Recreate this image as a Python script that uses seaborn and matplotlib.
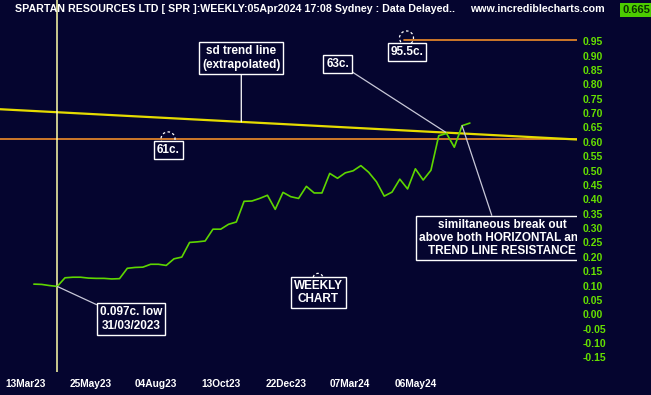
import pandas as pd
import matplotlib.pyplot as plt
import seaborn as sns
from matplotlib.patches import Ellipse

# weekly closes, SPR, 10 Mar 2023 .. 05 Apr 2024
WEEKS = pd.date_range("2023-03-10", periods=57, freq="W-FRI")
CLOSE = [0.105, 0.104, 0.100, 0.097, 0.127, 0.129, 0.129, 0.126, 0.125, 0.125,
         0.123, 0.124, 0.160, 0.163, 0.164, 0.174, 0.174, 0.170, 0.193, 0.199,
         0.250, 0.252, 0.255, 0.296, 0.296, 0.313, 0.321, 0.393, 0.394, 0.403,
         0.414, 0.365, 0.424, 0.409, 0.403, 0.445, 0.422, 0.422, 0.490, 0.473,
         0.492, 0.499, 0.517, 0.494, 0.461, 0.411, 0.425, 0.470, 0.436, 0.506,
         0.467, 0.501, 0.621, 0.629, 0.581, 0.656, 0.665]
LOW_WEEK = 3
RESISTANCE = 0.61
HIGH_LEVEL = 0.955
HIGH_FROM_WEEK = 47.5
TREND_AT_0 = 0.707
TREND_SLOPE = -0.00142

X_LABELS = ["13Mar23", "25May23", "04Aug23", "13Oct23", "22Dec23", "07Mar24", "06May24"]
X_LABEL_POS = [-1.1, 7.3, 15.7, 24.0, 32.4, 40.6, 49.1]
Y_TICKS = [round(-0.15 + 0.05 * k, 2) for k in range(23)]

HEADER = "SPARTAN RESOURCES LTD [ SPR ]:WEEKLY:05Apr2024 17:08 Sydney : Data Delayed.."
SITE = "www.incrediblecharts.com"
LAST = "0.665"

BG = "#05052f"
GREEN = "#66e000"
LINE_GREEN = "#5ed600"
ORANGE = "#f08c28"
TREND_YELLOW = "#e6dc00"
CONN = "#c8c8d8"

sns.set_style("dark")
plt.rcParams["font.family"] = ["Liberation Sans", "DejaVu Sans"]
plt.rcParams["font.weight"] = "bold"

df = pd.DataFrame({"week": range(len(CLOSE)), "date": WEEKS, "close": CLOSE})

fig = plt.figure(figsize=(6.51, 3.95), dpi=100)
fig.patch.set_facecolor(BG)
ax = fig.add_axes([0, 23 / 395, 577 / 651, 372 / 395])
ax.set_facecolor(BG)
XMIN, XMAX = -4.35, 69.76
YMIN, YMAX = -0.2006, 1.093
ax.set_xlim(XMIN, XMAX)
ax.set_ylim(YMIN, YMAX)
for s in ax.spines.values():
    s.set_visible(False)
ax.grid(False)

# level lines and trend line
ax.axhline(RESISTANCE, color=ORANGE, lw=1.2, zorder=2)
ax.plot([HIGH_FROM_WEEK, XMAX], [HIGH_LEVEL, HIGH_LEVEL], color=ORANGE, lw=1.2, zorder=2)
ax.axline((0, TREND_AT_0), slope=TREND_SLOPE, color=TREND_YELLOW, lw=1.6, zorder=2)
ax.axvline(LOW_WEEK, color="#ffffa8", lw=1.1, zorder=2)

sns.lineplot(data=df, x="week", y="close", color=LINE_GREEN, lw=1.2, ax=ax, zorder=4)
ax.set_xlabel("")
ax.set_ylabel("")

ax.yaxis.tick_right()
ax.set_yticks(Y_TICKS)
ax.set_yticklabels([f"{v:.2f}" for v in Y_TICKS], fontsize=7.5, fontweight="bold")
ax.tick_params(axis="y", length=0, pad=4.3, labelcolor=GREEN)
ax.set_xticks(X_LABEL_POS)
ax.set_xticklabels(X_LABELS, fontsize=7.3, fontweight="bold")
ax.tick_params(axis="x", length=0, pad=5, labelcolor="white")

# pixel helpers for annotation sizes
px_x = (XMAX - XMIN) / 577
px_y = (YMAX - YMIN) / 372
box = dict(boxstyle="square,pad=0.25", fc=BG, ec="white", lw=1)
tkw = dict(color="white", fontsize=8.5, fontweight="bold", ha="center", va="center",
           linespacing=1.15, bbox=box, zorder=6)


def dashed_circle(x, y, r):
    ax.add_patch(Ellipse((x, y), 2 * r * px_x, 2 * r * px_y, fill=False, ec="white",
                         lw=0.9, ls=(0, (2, 2)), zorder=3))


low_y = CLOSE[LOW_WEEK]
ax.annotate("0.097c. low\n31/03/2023", xy=(LOW_WEEK, low_y), xytext=(12.5, -0.016),
            arrowprops=dict(arrowstyle="-", color=CONN, lw=0.9, shrinkA=0, shrinkB=0,
                            relpos=(0, 1)), **tkw)

tx = 26.64
ax.annotate("sd trend line\n(extrapolated)", xy=(tx, TREND_AT_0 + TREND_SLOPE * tx),
            xytext=(tx, 0.8915),
            arrowprops=dict(arrowstyle="-", color="white", lw=0.9, shrinkA=0, shrinkB=0,
                            relpos=(0.5, 0)), **tkw)

ax.annotate("63c.", xy=(52.9, 0.633), xytext=(39.0, 0.871),
            arrowprops=dict(arrowstyle="-", color=CONN, lw=0.9, shrinkA=0, shrinkB=0,
                            relpos=(1, 0)), **tkw)

dashed_circle(17.23, RESISTANCE, 7)
ax.text(17.26, 0.571, "61c.", **tkw)

dashed_circle(47.86, 0.961, 7)
ax.text(47.92, 0.912, "95.5c.", **tkw)

dashed_circle(36.5, 0.125, 5)
ax.text(36.53, 0.075, "WEEKLY\nCHART", **tkw)

ax.annotate("similtaneous break out\nabove both HORIZONTAL and\nTREND LINE RESISTANCE",
            xy=(55, CLOSE[55]), xytext=(60.13, 0.265), clip_on=True,
            arrowprops=dict(arrowstyle="-", color=CONN, lw=0.9, shrinkA=0, shrinkB=0,
                            relpos=(0.445, 1)), **tkw)

# header strip
fig.text(15 / 651, 1 - 9 / 395, HEADER, color="white", fontsize=7.7, fontweight="bold",
         ha="left", va="center")
fig.text(470 / 651, 1 - 9 / 395, SITE, color="white", fontsize=7.7, fontweight="bold",
         ha="left", va="center")
fig.text(636 / 651, 1 - 10 / 395, LAST, color="#0a3000", fontsize=8, fontweight="bold",
         ha="center", va="center",
         bbox=dict(boxstyle="square,pad=0.2", fc="#4ccc00", ec="none"))

fig.savefig("out.png", dpi=100, facecolor=BG)
